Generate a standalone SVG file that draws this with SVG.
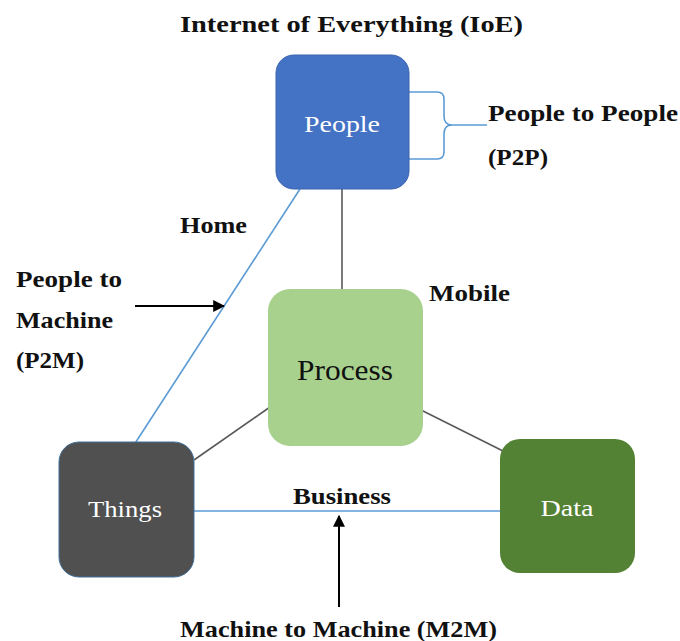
<svg xmlns="http://www.w3.org/2000/svg" width="680" height="641" viewBox="0 0 680 641">
<defs>
<style>
.lbl{font-family:"Liberation Serif","Times New Roman",serif;font-weight:bold;font-size:23px;fill:#111}
.ntx{font-family:"Liberation Serif","Times New Roman",serif;font-size:24px;text-anchor:middle}
.gray{stroke:#595959;stroke-width:1.6;fill:none}
.blue{stroke:#5B9BD5;stroke-width:1.6;fill:none}
.arr{stroke:#000;stroke-width:2;fill:none;marker-end:url(#ah)}
</style>
<marker id="ah" viewBox="0 0 10 10" refX="9" refY="5" markerWidth="6" markerHeight="6" orient="auto" markerUnits="strokeWidth">
<path d="M0,0 L10,5 L0,10 z" fill="#000"/>
</marker>
</defs>
<rect width="680" height="641" fill="#fff"/>
<text class="lbl" x="180" y="32" textLength="343" lengthAdjust="spacingAndGlyphs">Internet of Everything (IoE)</text>
<g id="connectors">
<line class="gray" x1="342" y1="189" x2="342" y2="289"/>
<line class="gray" x1="270" y1="407" x2="194" y2="460"/>
<line class="gray" x1="419" y1="409" x2="505" y2="452"/>
<line class="blue" x1="300" y1="189" x2="132" y2="448"/>
<line class="blue" x1="194" y1="511" x2="500" y2="511"/>
<path class="blue" d="M409,92 H437 Q444,92 444,99 V116 Q444,125 452,125 H487 M409,159 H437 Q444,159 444,152 V134 Q444,125 452,125"/>
<line class="arr" x1="135" y1="306" x2="224" y2="306"/>
<line class="arr" x1="339" y1="607" x2="339" y2="516"/>
</g>
<g id="people">
<rect x="276" y="55" width="133" height="134" rx="18" fill="#4472C4" stroke="#3A64AE" stroke-width="1"/>
<text class="ntx" x="342" y="132" fill="#fff" textLength="76" lengthAdjust="spacingAndGlyphs">People</text>
</g>
<g id="process">
<rect x="268" y="289" width="155" height="157" rx="22" fill="#A9D18E"/>
<text class="ntx" x="345" y="380" fill="#111" style="font-size:30px" textLength="96" lengthAdjust="spacingAndGlyphs">Process</text>
</g>
<g id="things">
<rect x="59" y="442" width="135" height="135" rx="20" fill="#505050" stroke="#41719C" stroke-width="1"/>
<text class="ntx" x="125" y="517" fill="#fff" textLength="74" lengthAdjust="spacingAndGlyphs">Things</text>
</g>
<g id="data">
<rect x="500" y="439" width="135" height="134" rx="20" fill="#548235"/>
<text class="ntx" x="567" y="516" fill="#fff" textLength="53" lengthAdjust="spacingAndGlyphs">Data</text>
</g>
<g id="labels">
<text class="lbl" x="488" y="121" textLength="190" lengthAdjust="spacingAndGlyphs">People to People</text>
<text class="lbl" x="488" y="165" textLength="60" lengthAdjust="spacingAndGlyphs">(P2P)</text>
<text class="lbl" x="180" y="233" textLength="67" lengthAdjust="spacingAndGlyphs">Home</text>
<text class="lbl" x="16" y="287" textLength="106" lengthAdjust="spacingAndGlyphs">People to</text>
<text class="lbl" x="16" y="328" textLength="97" lengthAdjust="spacingAndGlyphs">Machine</text>
<text class="lbl" x="16" y="368" textLength="68" lengthAdjust="spacingAndGlyphs">(P2M)</text>
<text class="lbl" x="429" y="301" textLength="81" lengthAdjust="spacingAndGlyphs">Mobile</text>
<text class="lbl" x="293" y="504" textLength="98" lengthAdjust="spacingAndGlyphs">Business</text>
<text class="lbl" x="180" y="637" textLength="317" lengthAdjust="spacingAndGlyphs">Machine to Machine (M2M)</text>
</g>
</svg>
